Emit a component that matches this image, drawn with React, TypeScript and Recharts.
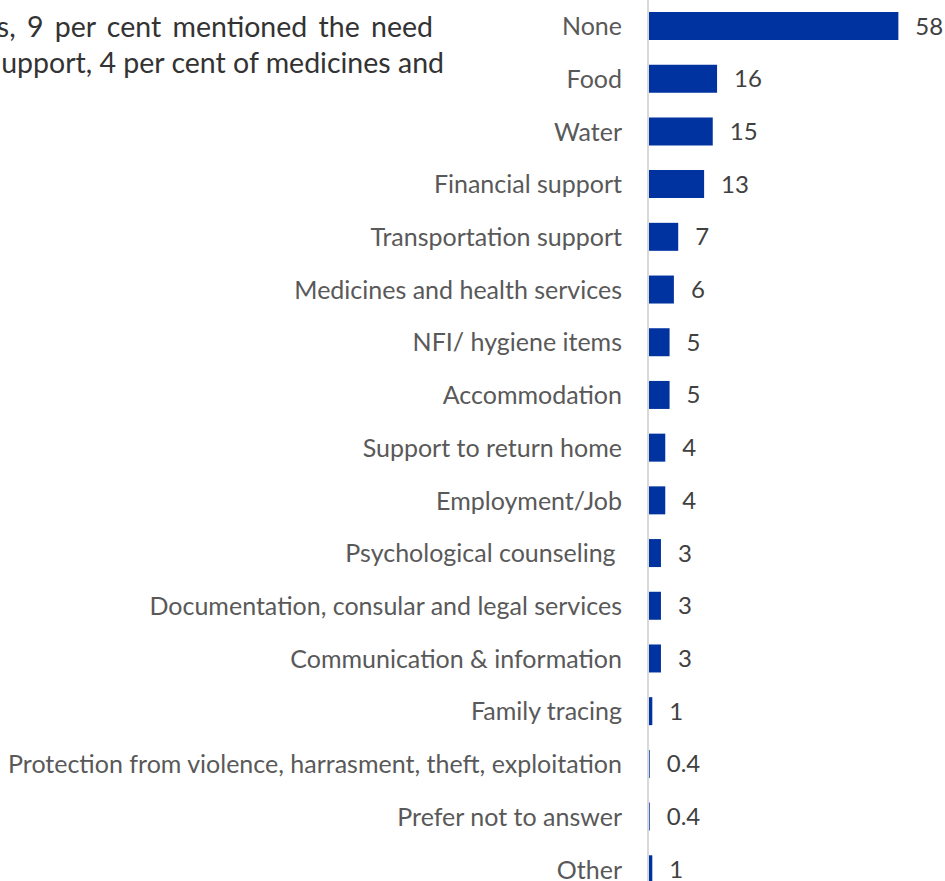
import React from "react";
import { BarChart, Bar, XAxis, YAxis, LabelList } from "recharts";

const categories = [
  "None",
  "Food",
  "Water",
  "Financial support",
  "Transportation support",
  "Medicines and health services",
  "NFI/ hygiene items",
  "Accommodation",
  "Support to return home",
  "Employment/Job",
  "Psychological counseling\u00a0",
  "Documentation, consular and legal services",
  "Communication & information",
  "Family tracing",
  "Protection from violence, harrasment, theft, exploitation",
  "Prefer not to answer",
  "Other",
];

const values = [58, 16, 15, 13, 7, 6, 5, 5, 4, 4, 3, 3, 3, 1, 0.4, 0.4, 1];

const bodyLines = [
  "s, 9 per cent mentioned the need",
  "upport, 4 per cent of medicines and",
];

const data = categories.map((name, i) => ({ name, value: values[i] }));

const FONT = "Lato, 'Open Sans', sans-serif";

export default function App() {
  return (
    <div
      style={{
        position: "fixed",
        left: 0,
        top: 0,
        width: 945,
        height: 881,
        overflow: "hidden",
        background: "#fff",
        fontFamily: FONT,
      }}
    >
      <div
        style={{
          position: "absolute",
          right: 945 - 433,
          top: 8,
          fontSize: 28.5,
          color: "#333",
          whiteSpace: "nowrap",
          lineHeight: "36px",
          wordSpacing: 4,
        }}
      >
        {bodyLines[0]}
      </div>
      <div
        style={{
          position: "absolute",
          right: 945 - 444,
          top: 44,
          fontSize: 28.5,
          color: "#333",
          whiteSpace: "nowrap",
          lineHeight: "36px",
        }}
      >
        {bodyLines[1]}
      </div>
      <div style={{ position: "absolute", left: 0, top: 0 }}>
        <BarChart
          width={945}
          height={896}
          data={data}
          layout="vertical"
          margin={{ top: 0, right: 38, bottom: 0, left: 0 }}
          barSize={28}
        >
          <XAxis type="number" domain={[0, 60]} hide />
          <YAxis
            type="category"
            dataKey="name"
            width={648}
            interval={0}
            tickLine={false}
            tickSize={0}
            tickMargin={26}
            axisLine={{ stroke: "#d9d9d9", strokeWidth: 2 }}
            tick={{ fill: "#595959", fontSize: 25, fontFamily: FONT }}
          />
          <Bar dataKey="value" fill="#0033a0" isAnimationActive={false}>
            <LabelList
              dataKey="value"
              position="right"
              offset={17}
              fill="#404040"
              fontSize={24}
              fontFamily={FONT}
            />
          </Bar>
        </BarChart>
      </div>
    </div>
  );
}
